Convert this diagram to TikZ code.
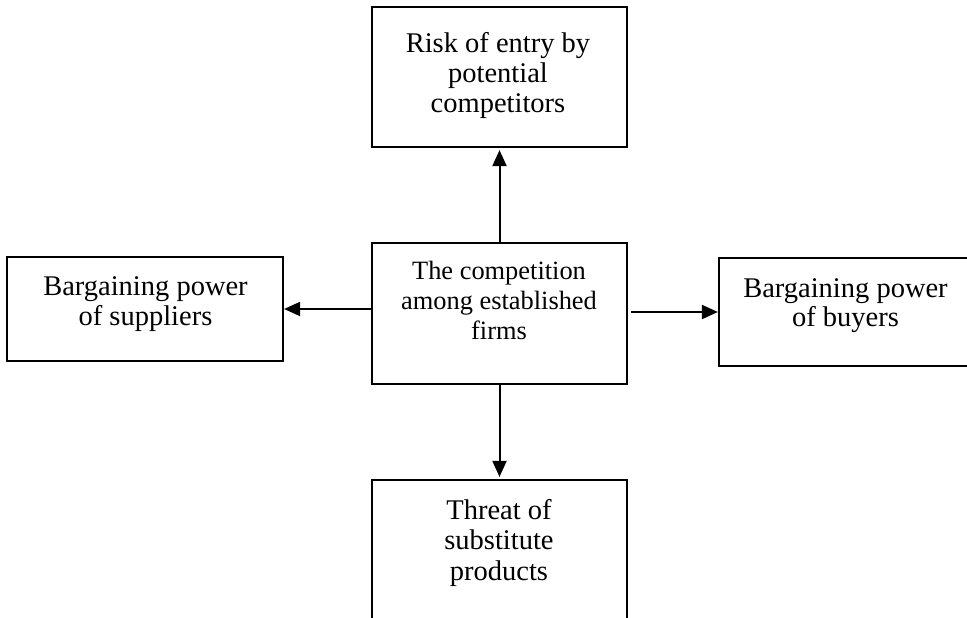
\documentclass[tikz,border=0pt]{standalone}
\usepackage{fontspec}
\setmainfont{Liberation Serif}
\usetikzlibrary{arrows.meta}
\begin{document}
\begin{tikzpicture}[x=1pt,y=-1pt,
  box/.style={draw,line width=2.2pt,inner sep=0pt},
  arr/.style={line width=2pt,-{Triangle[length=16pt,width=14pt]}},
  bigtxt/.style={inner sep=0pt,anchor=base,font=\fontsize{28.5}{29.5}\selectfont},
  smalltxt/.style={inner sep=0pt,anchor=base,font=\fontsize{26.4}{30}\selectfont}]
\useasboundingbox (0,0) rectangle (967,618);
\clip (0,0) rectangle (967,618);
% boxes
\node[box,minimum width=255pt,minimum height=140pt] (risk) at (499.5,77) {};
\node[box,minimum width=255pt,minimum height=141pt] (comp) at (499.5,313.5) {};
\node[box,minimum width=276pt,minimum height=104pt] (supp) at (145,309) {};
\node[box,minimum width=253pt,minimum height=108pt] (buy) at (845.5,312) {};
\node[box,minimum width=255pt,minimum height=160pt] (subst) at (499.5,560) {};
% texts
\renewcommand{\arraystretch}{1}
\node[bigtxt] (risktxt) at (498,53) {\begin{tabular}[t]{@{}c@{}}Risk of entry by\\potential\\competitors\end{tabular}};
\node[smalltxt] (comptxt) at (499,279) {\begin{tabular}[t]{@{}c@{}}The competition\\among established\\firms\end{tabular}};
\node[bigtxt] (supptxt) at (145.5,295.5) {\begin{tabular}[t]{@{}c@{}}Bargaining power\\of suppliers\end{tabular}};
\node[bigtxt] (buytxt) at (845.5,297) {\begin{tabular}[t]{@{}c@{}}Bargaining power\\of buyers\end{tabular}};
\node[smalltxt,font=\fontsize{28.5}{30.5}\selectfont] (substtxt) at (499,519) {\begin{tabular}[t]{@{}c@{}}Threat of\\substitute\\products\end{tabular}};
% arrows
\draw[arr,shorten >=2pt] (comp.north) -- (risk.south);
\draw[arr,shorten >=2pt] (comp.south) -- (subst.north);
\draw[arr] (comp.west |- supp.east) -- (supp.east);
\draw[arr,shorten <=3pt] (comp.east |- buy.west) -- (buy.west);
\end{tikzpicture}
\end{document}
